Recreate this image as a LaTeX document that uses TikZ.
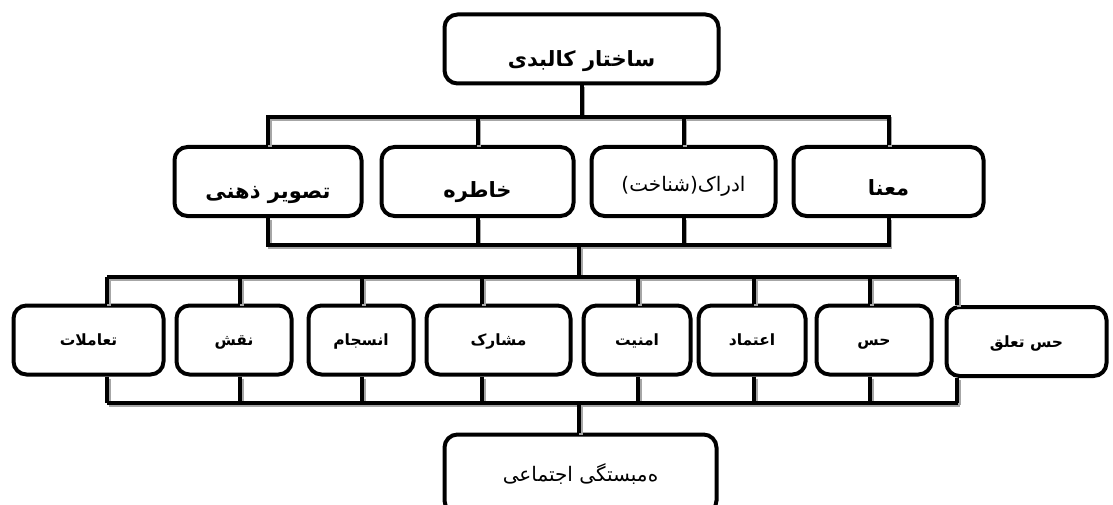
\documentclass[tikz,border=0pt]{standalone}
\usepackage{fontspec}
\newfontfamily\fa[Script=Arabic]{DejaVu Sans}
\TeXXeTstate=1

% right-to-left text, optionally lowered in its box
\newcommand\fatext[2][0pt]{\raisebox{-#1}[\height][\depth]{\beginR #2\endR}}

\tikzset{
  block/.style={draw, fill=white, line width=4pt, rounded corners=13pt, inner sep=0pt, minimum height=69pt},
  big/.style={font=\fa\bfseries\fontsize{21}{24}\selectfont},
  plain/.style={font=\fa\fontsize{20}{23}\selectfont},
  small/.style={font=\fa\bfseries\fontsize{15.5}{18}\selectfont, text height=13pt, text depth=2pt},
  link/.style={line width=4pt}
}

% all connectors, drawn twice (shadow, then black)
\newcommand\drawlinks{%
  \draw[link] (frame.south) -- (frame.south |- bus1);
  \draw[link] (img.north) |- (bus1 -| mana.north) -- (mana.north);
  \draw[link] (memory.north) -- (memory.north |- bus1);
  \draw[link] (perc.north) -- (perc.north |- bus1);
  \draw[link] (img.south) |- (bus2 -| mana.south) -- (mana.south);
  \draw[link] (memory.south) -- (memory.south |- bus2);
  \draw[link] (perc.south) -- (perc.south |- bus2);
  \draw[link] (bus2 -| mid) -- (bus3 -| mid);
  \draw[link] (107,277) -- (957,277);
  \draw[link] (107,403) -- (958,403);
  \foreach \n/\x in {taamol/107, naqsh/240, ensejam/362, mosharek/482, amniat/638, etemad/754, hes/870, taalog/957}{
    \draw[link] (\x,277) -- (\x,0 |- \n.north);
    \draw[link] (\x,0 |- \n.south) -- (\x,403);
  }
  \draw[link] (bus4 -| mid) -- (social.north -| mid);
}

\begin{document}
\begin{tikzpicture}[x=1pt,y=-1pt]
\useasboundingbox (0,0) rectangle (1113,505);

% bus levels
\coordinate (bus1) at (0,117);
\coordinate (bus2) at (0,245);
\coordinate (bus3) at (0,277);
\coordinate (bus4) at (0,403);
\coordinate (mid) at (579,0);

% top box
\draw (581.5,49) node[block, big, minimum width=274pt] (frame) {\fatext[12pt]{ساختار کالبدی}};

% second row
\draw (268,181.5) node[block, big, minimum width=187pt] (img) {\fatext[13pt]{تصویر ذهنی}};
\draw (477.5,181.5) node[block, big, minimum width=192pt] (memory) {\fatext[11pt]{خاطره}};
\draw (683.5,181.5) node[block, plain, minimum width=184pt] (perc) {\fatext[5pt]{ادراک(شناخت)}};
\draw (888.5,181.5) node[block, big, minimum width=190pt] (mana) {\fatext[6pt]{معنا}};

% third row
\draw (88.5,340) node[block, small, minimum width=150pt] (taamol) {\fatext{تعاملات}};
\draw (234,340) node[block, small, minimum width=115pt] (naqsh) {\fatext{نقش}};
\draw (361,340) node[block, small, minimum width=105pt] (ensejam) {\fatext{انسجام}};
\draw (498.5,340) node[block, small, minimum width=144pt] (mosharek) {\fatext{مشارک}};
\draw (637,340) node[block, small, minimum width=107pt] (amniat) {\fatext{امنیت}};
\draw (752,340) node[block, small, minimum width=107pt] (etemad) {\fatext{اعتماد}};
\draw (874,340) node[block, small, minimum width=115pt] (hes) {\fatext{حس}};
\draw (1026.5,341.5) node[block, small, minimum width=160pt] (taalog) {\fatext{حس تعلق}};

% bottom box
\draw (580.5,474) node[block, plain, minimum width=272pt, minimum height=79pt] (social) {\fatext{ه^^^^200cمبستگی اجتماعی}};

% connectors: grey shadow first, then black
\begin{scope}[transform canvas={shift={(1.5pt,-2pt)}}, draw=black!35]
  \drawlinks
\end{scope}
\drawlinks

\end{tikzpicture}
\end{document}
